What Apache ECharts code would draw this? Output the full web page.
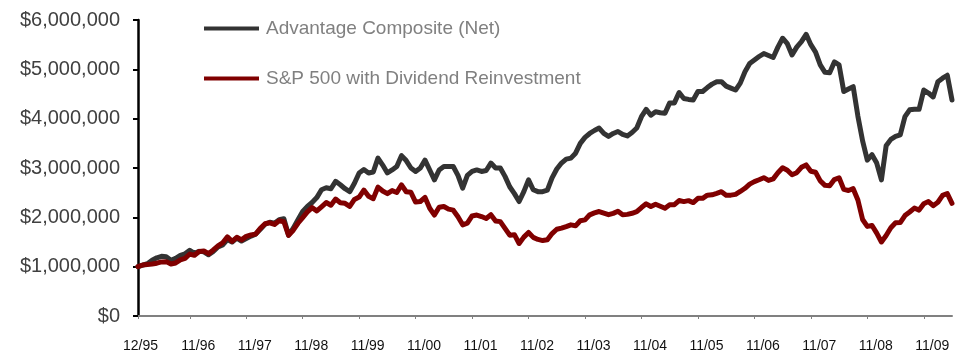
<!DOCTYPE html>
<html>
<head>
<meta charset="utf-8">
<script src="https://cdn.jsdelivr.net/npm/echarts@6/dist/echarts.min.js"></script>
<style>
  html, body { margin: 0; padding: 0; background: #ffffff; }
  #chart { width: 955px; height: 353px; }
</style>
</head>
<body>
<div id="chart"></div>
<script>
// Growth of $1,000,000, month-end values from 12/95 through 5/10
const startYear = 1995;
const startMonth = 12;
const monthCount = 174;

// month labels "M/YY"
const months = [];
for (let k = 0; k < monthCount; k++) {
  const m = (startMonth - 1 + k) % 12 + 1;
  const y = startYear + Math.floor((startMonth - 1 + k) / 12);
  months.push(m + '/' + String(y % 100).padStart(2, '0'));
}

const tickLabels = ['12/95', '11/96', '11/97', '11/98', '11/99', '11/00', '11/01',
  '11/02', '11/03', '11/04', '11/05', '11/06', '11/07', '11/08', '11/09'];

const seriesNames = ['Advantage Composite (Net)', 'S&P 500 with Dividend Reinvestment'];

const advantageNet = [
  1000000, 1030000, 1060000, 1130000, 1180000, 1210000, 1200000, 1130000, 1170000, 1230000, 1260000, 1330000,
  1270000, 1310000, 1300000, 1240000, 1310000, 1400000, 1440000, 1550000, 1500000, 1580000, 1520000, 1570000,
  1620000, 1660000, 1760000, 1860000, 1900000, 1880000, 1950000, 1970000, 1640000, 1780000, 1950000, 2120000,
  2220000, 2300000, 2400000, 2560000, 2600000, 2580000, 2730000, 2660000, 2580000, 2520000, 2690000, 2900000,
  2970000, 2900000, 2920000, 3200000, 3060000, 2900000, 2960000, 3030000, 3250000, 3150000, 3000000, 2930000,
  3000000, 3160000, 2960000, 2760000, 2960000, 3030000, 3030000, 3030000, 2850000, 2590000, 2850000, 2930000,
  2960000, 2930000, 2950000, 3100000, 3000000, 3000000, 2830000, 2620000, 2480000, 2320000, 2520000, 2760000,
  2560000, 2520000, 2520000, 2550000, 2800000, 2980000, 3100000, 3180000, 3200000, 3300000, 3500000, 3620000,
  3700000, 3760000, 3810000, 3700000, 3640000, 3700000, 3740000, 3680000, 3650000, 3720000, 3810000, 4040000,
  4190000, 4070000, 4140000, 4120000, 4110000, 4320000, 4320000, 4530000, 4410000, 4390000, 4380000, 4550000,
  4550000, 4630000, 4700000, 4750000, 4750000, 4660000, 4620000, 4580000, 4720000, 4950000, 5120000, 5190000,
  5260000, 5320000, 5280000, 5240000, 5450000, 5630000, 5520000, 5290000, 5450000, 5560000, 5710000, 5500000,
  5350000, 5090000, 4940000, 4930000, 5150000, 5090000, 4550000, 4600000, 4650000, 4050000, 3550000, 3160000,
  3270000, 3100000, 2760000, 3450000, 3580000, 3640000, 3670000, 4040000, 4180000, 4190000, 4190000, 4580000,
  4520000, 4440000, 4750000, 4820000, 4880000, 4380000
];

const sp500Reinvested = [
  1000000, 1034000, 1044000, 1054000, 1070000, 1097000, 1102000, 1053000, 1075000, 1136000, 1167000, 1256000,
  1230000, 1307000, 1317000, 1263000, 1339000, 1421000, 1485000, 1603000, 1513000, 1596000, 1543000, 1614000,
  1642000, 1660000, 1779000, 1870000, 1889000, 1856000, 1932000, 1911000, 1634000, 1739000, 1880000, 1994000,
  2109000, 2197000, 2129000, 2214000, 2300000, 2245000, 2370000, 2296000, 2284000, 2222000, 2363000, 2411000,
  2553000, 2425000, 2379000, 2612000, 2533000, 2481000, 2542000, 2503000, 2658000, 2518000, 2507000, 2309000,
  2321000, 2403000, 2184000, 2046000, 2205000, 2220000, 2166000, 2145000, 2011000, 1848000, 1884000, 2028000,
  2046000, 2016000, 1977000, 2052000, 1927000, 1913000, 1777000, 1638000, 1649000, 1470000, 1599000, 1693000,
  1594000, 1552000, 1529000, 1544000, 1671000, 1759000, 1781000, 1813000, 1848000, 1828000, 1932000, 1949000,
  2051000, 2089000, 2118000, 2086000, 2053000, 2081000, 2122000, 2051000, 2060000, 2082000, 2114000, 2199000,
  2274000, 2219000, 2265000, 2225000, 2183000, 2253000, 2256000, 2340000, 2319000, 2338000, 2299000, 2386000,
  2386000, 2449000, 2456000, 2486000, 2519000, 2447000, 2450000, 2465000, 2524000, 2589000, 2673000, 2724000,
  2762000, 2804000, 2749000, 2780000, 2903000, 3004000, 2954000, 2862000, 2905000, 3014000, 3062000, 2934000,
  2913000, 2738000, 2649000, 2638000, 2766000, 2802000, 2566000, 2544000, 2581000, 2351000, 1956000, 1816000,
  1835000, 1680000, 1501000, 1633000, 1789000, 1889000, 1893000, 2036000, 2109000, 2188000, 2147000, 2276000,
  2320000, 2236000, 2305000, 2444000, 2483000, 2284000
];

const colors = ['#333333', '#800000'];
const fontFamily = '"Liberation Sans", Arial, sans-serif';

const isTick = (idx) => tickLabels.indexOf(months[idx]) !== -1;

const chart = echarts.init(document.getElementById('chart'), null, { renderer: 'canvas' });

const legendBase = {
  orient: 'vertical',
  left: 204,
  padding: 0,
  icon: 'rect',
  itemWidth: 55,
  itemHeight: 4,
  textStyle: { color: '#808080', fontSize: 19, fontFamily: fontFamily, padding: [0, 0, 0, 2] },
  selectedMode: false
};

chart.setOption({
  animation: false,
  backgroundColor: '#ffffff',
  color: colors,
  legend: [
    Object.assign({}, legendBase, { top: 19, data: [seriesNames[0]] }),
    Object.assign({}, legendBase, { top: 69, data: [seriesNames[1]] })
  ],
  grid: {
    left: 138,
    right: 3,
    top: 20,
    bottom: 37,
    outerBoundsMode: 'none'
  },
  xAxis: {
    type: 'category',
    data: months,
    boundaryGap: false,
    axisLine: { lineStyle: { color: '#808080', width: 2 } },
    axisTick: {
      interval: isTick,
      length: 3,
      lineStyle: { color: '#808080', width: 1 }
    },
    axisLabel: {
      interval: isTick,
      margin: 23,
      color: '#111111',
      fontSize: 14,
      fontFamily: fontFamily,
      formatter: (value, idx) => (idx === 0 ? '{first|' + value + '}' : '{rest|' + value + '}'),
      rich: {
        first: { padding: [0, 0, 0, 5], fontSize: 14, fontFamily: fontFamily, color: '#111111' },
        rest: { padding: [0, 0, 0, 17], fontSize: 14, fontFamily: fontFamily, color: '#111111' }
      }
    },
    splitLine: { show: false }
  },
  yAxis: {
    type: 'value',
    min: 0,
    max: 6000000,
    interval: 1000000,
    axisLine: { show: true, lineStyle: { color: '#000000', width: 2.5 } },
    axisTick: { show: true, length: 5, lineStyle: { color: '#000000', width: 2 } },
    axisLabel: {
      margin: 18,
      color: '#404040',
      fontSize: 20,
      fontFamily: fontFamily,
      formatter: (v) => '$' + v.toLocaleString('en-US')
    },
    splitLine: { show: false }
  },
  series: [
    {
      name: seriesNames[0],
      type: 'line',
      data: advantageNet,
      showSymbol: false,
      symbol: 'none',
      lineStyle: { color: colors[0], width: 5, cap: 'round', join: 'round' }
    },
    {
      name: seriesNames[1],
      type: 'line',
      data: sp500Reinvested,
      showSymbol: false,
      symbol: 'none',
      lineStyle: { color: colors[1], width: 5, cap: 'round', join: 'round' }
    }
  ]
});
</script>
</body>
</html>
